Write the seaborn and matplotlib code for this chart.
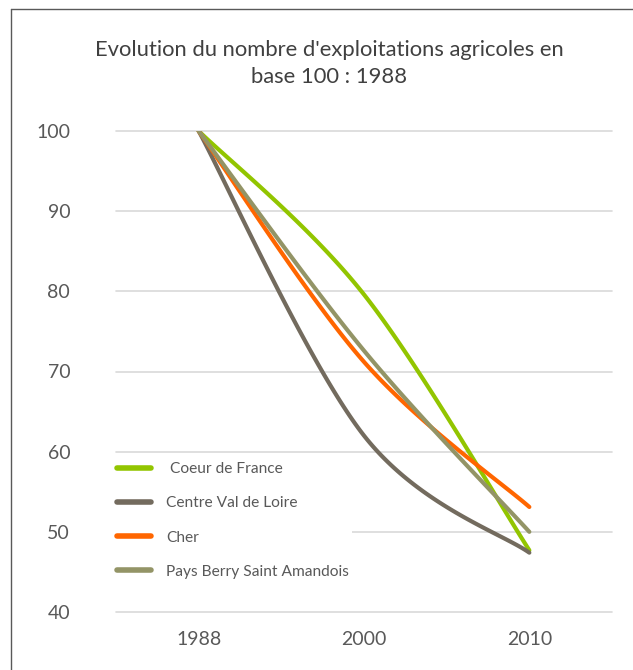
import numpy as np
import pandas as pd
import seaborn as sns
import matplotlib.pyplot as plt
from matplotlib.lines import Line2D

# -----------------------------
# Data (base 100 : 1988)
# -----------------------------

years = ['1988', '2000', '2010']
series = ['Coeur de France', 'Centre Val de Loire', 'Cher', 'Pays Berry Saint Amandois']
coeur_de_france = [100, 79.6, 47.7]
centre_val_de_loire = [100, 62.0, 47.4]
cher = [100, 71.2, 53.1]
pays_berry = [100, 72.6, 50.0]

colors = ['#92c500', '#736b5e', '#ff6600', '#939466']


# smoothed line like the spreadsheet one (Catmull-Rom bezier through the points)
def smooth(values, steps=60):
    pts = np.column_stack([np.arange(len(values)), values]).astype(float)
    ext = np.vstack([pts[0], pts, pts[-1]])
    out = []
    for i in range(len(pts) - 1):
        p0, p1 = ext[i + 1], ext[i + 2]
        c1 = p0 + (ext[i + 2] - ext[i]) / 6
        c2 = p1 - (ext[i + 3] - ext[i + 1]) / 6
        t = np.linspace(0, 1, steps)[:, None]
        b = ((1 - t) ** 3) * p0 + 3 * ((1 - t) ** 2) * t * c1 + 3 * (1 - t) * t ** 2 * c2 + t ** 3 * p1
        out.append(b if i == 0 else b[1:])
    return np.vstack(out)


frames = []
for name, vals in zip(series, [coeur_de_france, centre_val_de_loire, cher, pays_berry]):
    xy = smooth(vals)
    frames.append(pd.DataFrame({'x': xy[:, 0], 'y': xy[:, 1], 'serie': name}))
df = pd.concat(frames, ignore_index=True)

# -----------------------------
# Plot
# -----------------------------

sns.set_style('white')
plt.rcParams['font.family'] = ['Lato', 'DejaVu Sans']

fig = plt.figure(figsize=(6.33, 6.7), dpi=100)
ax = fig.add_axes([116 / 633, 1 - 612 / 670, (612 - 116) / 633, (612 - 131) / 670])

sns.lineplot(
    data=df, x='x', y='y', hue='serie', palette=colors,
    hue_order=series, sort=False, estimator=None,
    linewidth=3.0, solid_capstyle='round', ax=ax
)

ax.set_xlim(-0.5, 2.5)
ax.set_ylim(40, 100)
ax.set_xticks(range(len(years)))
ax.set_xticklabels(years)
ax.set_yticks(range(40, 101, 10))
ax.set_xlabel('')
ax.set_ylabel('')
ax.yaxis.grid(True, color='#d9d9d9', linewidth=1.2)
ax.set_axisbelow(True)
for s in ax.spines.values():
    s.set_visible(False)
for gl in ax.get_ygridlines():
    gl.set_clip_on(False)
ax.tick_params(axis='y', length=0, pad=33, labelsize=14, labelcolor='#595959')
ax.tick_params(axis='x', length=0, pad=14, labelsize=14, labelcolor='#595959')

handles = [Line2D([0], [0], color=c, lw=4, solid_capstyle='round') for c in colors]
labels = [' Coeur de France', 'Centre Val de Loire', 'Cher', 'Pays Berry Saint Amandois']
leg = ax.legend(
    handles, labels, loc='upper left', bbox_to_anchor=(-0.005, 0.318),
    frameon=True, facecolor='white', edgecolor='none', framealpha=1,
    fontsize=11.2, handlelength=2.2, handletextpad=1.0, labelspacing=1.3,
    borderaxespad=0, borderpad=0.2, fancybox=False
)
for t in leg.get_texts():
    t.set_color('#595959')

fig.text(0.52, 1 - 50 / 670, "Evolution du nombre d'exploitations agricoles en",
         ha='center', va='center', fontsize=15.8, color='#404040')
fig.text(0.52, 1 - 77 / 670, 'base 100 : 1988',
         ha='center', va='center', fontsize=15.8, color='#404040')

# outer frame (left and top only)
fig.add_artist(Line2D([10.5 / 633, 10.5 / 633], [0, 1 - 9 / 670], transform=fig.transFigure,
                      color='#595959', lw=1))
fig.add_artist(Line2D([10.5 / 633, 1], [1 - 9 / 670, 1 - 9 / 670], transform=fig.transFigure,
                      color='#595959', lw=1))

fig.savefig('out.png', dpi=100, facecolor='white')
plt.close()
